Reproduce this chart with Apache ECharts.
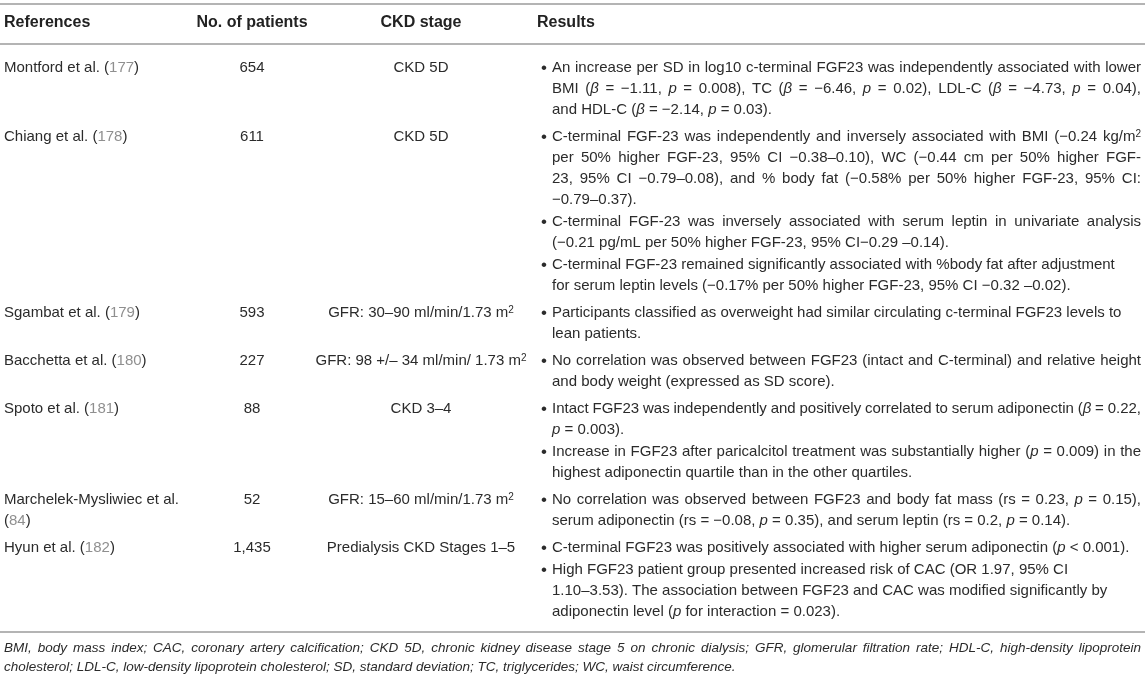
<!DOCTYPE html>
<html>
<head>
<meta charset="utf-8">
<script src="https://cdn.jsdelivr.net/npm/echarts@6/dist/echarts.min.js"></script>
<style>
html, body { margin: 0; padding: 0; background: #fff; }
#table { width: 1145px; height: 679px; }
</style>
</head>
<body>
<div id="table"></div>
<script>
// table content
var headers = ['References', 'No. of patients', 'CKD stage', 'Results'];
var refNames = ['Montford et al.', 'Chiang et al.', 'Sgambat et al.', 'Bacchetta et al.', 'Spoto et al.', 'Marchelek-Mysliwiec et al.', 'Hyun et al.'];
var refNums = ['177', '178', '179', '180', '181', '84', '182'];
var patients = ['654', '611', '593', '227', '88', '52', '1,435'];
var stages = ['CKD 5D', 'CKD 5D', 'GFR: 30–90 ml/min/1.73 m{s|2}', 'GFR: 98 +/– 34 ml/min/ 1.73 m{s|2}', 'CKD 3–4', 'GFR: 15–60 ml/min/1.73 m{s|2}', 'Predialysis CKD Stages 1–5'];

// one array per row, one inner array per bullet, one string per printed line
var resMontford = [[
  'An increase per SD in log10 c-terminal FGF23 was independently associated with lower',
  'BMI ({i|β} = −1.11, {i|p} = 0.008), TC ({i|β} = −6.46, {i|p} = 0.02), LDL-C ({i|β} = −4.73, {i|p} = 0.04),',
  'and HDL-C ({i|β} = −2.14, {i|p} = 0.03).'
]];
var resChiang = [[
  'C-terminal FGF-23 was independently and inversely associated with BMI (−0.24 kg/m{s|2}',
  'per 50% higher FGF-23, 95% CI −0.38–0.10), WC (−0.44 cm per 50% higher FGF-',
  '23, 95% CI −0.79–0.08), and % body fat (−0.58% per 50% higher FGF-23, 95% CI:',
  '−0.79–0.37).'
], [
  'C-terminal FGF-23 was inversely associated with serum leptin in univariate analysis',
  '(−0.21 pg/mL per 50% higher FGF-23, 95% CI−0.29 –0.14).'
], [
  'C-terminal FGF-23 remained significantly associated with %body fat after adjustment',
  'for serum leptin levels (−0.17% per 50% higher FGF-23, 95% CI −0.32 –0.02).'
]];
var resSgambat = [[
  'Participants classified as overweight had similar circulating c-terminal FGF23 levels to',
  'lean patients.'
]];
var resBacchetta = [[
  'No correlation was observed between FGF23 (intact and C-terminal) and relative height',
  'and body weight (expressed as SD score).'
]];
var resSpoto = [[
  'Intact FGF23 was independently and positively correlated to serum adiponectin ({i|β} = 0.22,',
  '{i|p} = 0.003).'
], [
  'Increase in FGF23 after paricalcitol treatment was substantially higher ({i|p} = 0.009) in the',
  'highest adiponectin quartile than in the other quartiles.'
]];
var resMarchelek = [[
  'No correlation was observed between FGF23 and body fat mass (rs = 0.23, {i|p} = 0.15),',
  'serum adiponectin (rs = −0.08, {i|p} = 0.35), and serum leptin (rs = 0.2, {i|p} = 0.14).'
]];
var resHyun = [[
  'C-terminal FGF23 was positively associated with higher serum adiponectin ({i|p} < 0.001).'
], [
  'High FGF23 patient group presented increased risk of CAC (OR 1.97, 95% CI',
  '1.10–3.53). The association between FGF23 and CAC was modified significantly by',
  'adiponectin level ({i|p} for interaction = 0.023).'
]];
var results = [resMontford, resChiang, resSgambat, resBacchetta, resSpoto, resMarchelek, resHyun];
// [row, bullet, line] of inner lines printed ragged instead of justified
var raggedLines = [[1, 2, 0], [2, 0, 0], [6, 1, 0], [6, 1, 1]];

var footnote = [
  'BMI, body mass index; CAC, coronary artery calcification; CKD 5D, chronic kidney disease stage 5 on chronic dialysis; GFR, glomerular filtration rate; HDL-C, high-density lipoprotein',
  'cholesterol; LDL-C, low-density lipoprotein cholesterol; SD, standard deviation; TC, triglycerides; WC, waist circumference.'
];

var chart = echarts.init(document.getElementById('table'), null, { renderer: 'canvas' });

var FAMILY = '"Liberation Sans", Arial, sans-serif';
var TEXT = '#2b2b2b', GREY = '#8f8f8f', RULE = '#b4b4b4';
function font(size, style, weight) {
  return (style || 'normal') + ' ' + (weight || 'normal') + ' ' + size + 'px ' + FAMILY;
}
var BODY = font(15), HEAD = font(16, 'normal', 'bold'), NOTE = font(13.5, 'italic');
var rich = {
  i: { font: font(15, 'italic'), fill: TEXT },
  g: { font: BODY, fill: GREY },
  s: { font: font(10), fill: TEXT, verticalAlign: 'top' }
};
var noteRich = {};

// column positions
var X_REF = 4, X_NUM = 252, X_STAGE = 421, X_RES = 537, X_BUL = 545, X_TXT = 552, X_END = 1141;
var REF_W = 186;
var Y_TOP = 4, Y_HEAD = 23, Y_HLINE = 44, Y_FIRST = 68, LH = 21, BUL_GAP = 1, ROW_GAP = 6;

var ctx = document.createElement('canvas').getContext('2d');
function tokens(str) {
  var out = [], re = /\{(\w+)\|([^}]*)\}/g, last = 0, m;
  while ((m = re.exec(str))) {
    if (m.index > last) out.push({ t: str.slice(last, m.index) });
    out.push({ t: m[2], s: m[1] });
    last = re.lastIndex;
  }
  if (last < str.length) out.push({ t: str.slice(last) });
  return out;
}
function measure(str, base, richMap) {
  return tokens(str).reduce(function (w, tk) {
    ctx.font = tk.s ? richMap[tk.s].font : base;
    return w + ctx.measureText(tk.t).width;
  }, 0);
}

var els = [];
function word(str, x, y, base, color, richMap) {
  els.push({
    type: 'text', silent: true,
    style: {
      text: str, x: x, y: y, font: base, fill: color, rich: richMap,
      align: 'left', verticalAlign: 'middle', textAlign: 'left', textVerticalAlign: 'middle'
    }
  });
}
// lays out one printed line word by word; justify spreads it to the given width
function line(str, x, y, width, justify, base, color, richMap) {
  var words = str.split(' ');
  var ws = words.map(function (w) { return measure(w, base, richMap); });
  var sum = ws.reduce(function (a, b) { return a + b; }, 0);
  var space = measure(' ', base, richMap);
  var gap = space;
  if (words.length > 1) {
    if (justify || sum + space * (words.length - 1) > width) {
      gap = Math.max(1.5, (width - sum) / (words.length - 1));
    }
  }
  var cx = x;
  words.forEach(function (w, k) {
    word(w, cx, y, base, color, richMap);
    cx += ws[k] + gap;
  });
}
function isRagged(r, b, k) {
  return raggedLines.some(function (t) { return t[0] === r && t[1] === b && t[2] === k; });
}
function rule(y, w) {
  els.push({ type: 'line', silent: true, shape: { x1: 0, y1: y, x2: 1145, y2: y }, style: { stroke: RULE, lineWidth: w } });
}

// header
rule(Y_TOP, 2);
word(headers[0], X_REF, Y_HEAD, HEAD, '#222', rich);
[[headers[1], X_NUM], [headers[2], X_STAGE]].forEach(function (h) {
  var w = measure(h[0], HEAD, rich);
  word(h[0], h[1] - w / 2, Y_HEAD, HEAD, '#222', rich);
});
word(headers[3], X_RES, Y_HEAD, HEAD, '#222', rich);
rule(Y_HLINE, 2);

// body rows
var y = Y_FIRST, lastY = y;
results.forEach(function (bullets, r) {
  var top = y;
  var ref = refNames[r] + ' ({g|' + refNums[r] + '})';
  if (measure(ref, BODY, rich) > REF_W) {
    line(refNames[r], X_REF, top, REF_W, false, BODY, TEXT, rich);
    line('({g|' + refNums[r] + '})', X_REF, top + LH, REF_W, false, BODY, TEXT, rich);
  } else {
    line(ref, X_REF, top, REF_W, false, BODY, TEXT, rich);
  }
  var pw = measure(patients[r], BODY, rich);
  line(patients[r], X_NUM - pw / 2, top, 200, false, BODY, TEXT, rich);
  var sw = measure(stages[r], BODY, rich);
  line(stages[r], X_STAGE - sw / 2, top, 300, false, BODY, TEXT, rich);

  bullets.forEach(function (lines, b) {
    word('•', X_BUL - 4, y, font(17), TEXT, rich);
    lines.forEach(function (s, k) {
      var justify = k < lines.length - 1 && !isRagged(r, b, k);
      line(s, X_TXT, y, X_END - X_TXT, justify, BODY, TEXT, rich);
      lastY = y;
      y += LH;
    });
    y += BUL_GAP;
  });
  y += ROW_GAP - BUL_GAP;
});

// bottom rule and footnote
var yb = lastY + 20;
rule(yb, 2);
line(footnote[0], X_REF, yb + 16, X_END - X_REF, true, NOTE, TEXT, noteRich);
line(footnote[1], X_REF, yb + 35, X_END - X_REF, false, NOTE, TEXT, noteRich);

chart.setOption({
  animation: false,
  graphic: { elements: els }
});
</script>
</body>
</html>
